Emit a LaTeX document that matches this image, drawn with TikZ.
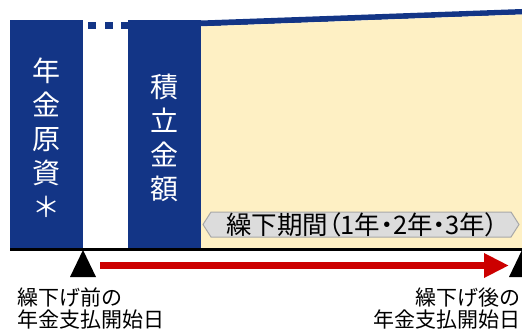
\documentclass[tikz,border=0pt]{standalone}
\usepackage{fontspec}
\setmainfont{Noto Sans CJK JP}
\newfontfamily\paltfont[RawFeature=+palt]{Noto Sans CJK JP}
\usetikzlibrary{arrows.meta}
\definecolor{navy}{HTML}{133586}
\definecolor{cream}{HTML}{FEF0C4}
\definecolor{tagfill}{HTML}{DCDCDC}
\definecolor{tagline}{HTML}{A8A8A8}
\definecolor{arrowred}{HTML}{CC0000}
\tikzset{
  vtext/.style={text=white, align=center, font=\fontsize{28}{34}\selectfont, inner sep=0pt},
  lbl/.style={inner sep=0pt, font=\fontsize{21}{21}\selectfont},
  marker/.style={fill=black},
}
\begin{document}
\begin{tikzpicture}[x=1pt,y=-1pt]
\useasboundingbox (0,0) rectangle (522,329);
\clip (0,0) rectangle (522,329);
% blue columns
\fill[navy] (10,20.5) rectangle (83,249);
\fill[navy] (128,20.5) rectangle (201,249);
% dots
\fill[navy] (88,22) rectangle (96,29);
\fill[navy] (105,22) rectangle (113,29);
\fill[navy] (121,22) rectangle (128,29);
% sloped band and yellow area
\fill[navy] (201,20.5) -- (522,9) -- (522,14.5) -- (201,26.5) -- cycle;
\fill[cream] (201,26.5) -- (522,14.5) -- (522,249) -- (201,249) -- cycle;
% tag
\filldraw[fill=tagfill, draw=tagline, line width=1pt]
  (203,224.5) -- (211,212) -- (511,212) -- (519,224.5) -- (511,237) -- (211,237) -- cycle;
\node[inner sep=0pt, font=\paltfont\fontsize{25.5}{25.5}\selectfont] (tag) at (362,225) {繰下期間（1年・2年・3年）};
% column texts
\node[vtext] (genshi) at (46.5,138) {年\\金\\原\\資\\＊};
\node[vtext] (tsumitate) at (164.5,138) {積\\立\\金\\額};
% baseline
\draw[line width=3.5pt] (10,249.25) -- (522,249.25);
% markers
\coordinate (m1) at (83,250);
\coordinate (m2) at (522,250);
\fill[marker] (m1) -- ++(13,27) -- ++(-26,0) -- cycle;
\fill[marker] (m2) -- ++(13,27) -- ++(-26,0) -- cycle;
% red arrow
\coordinate (rs) at (100,265.5);
\coordinate (re) at (509,265.5);
\draw[arrowred, line width=7pt, -{Triangle[length=25pt,width=23pt]}] (rs) -- (re);
% labels
\node[lbl, anchor=base west] (b1) at (17,305.5) {繰下げ前の};
\node[lbl, anchor=base west] (b2) at (17,327) {年金支払開始日};
\node[lbl, anchor=base east] (a1) at (521,305.5) {繰下げ後の};
\node[lbl, anchor=base east] (a2) at (521,327) {年金支払開始日};
\end{tikzpicture}
\end{document}
